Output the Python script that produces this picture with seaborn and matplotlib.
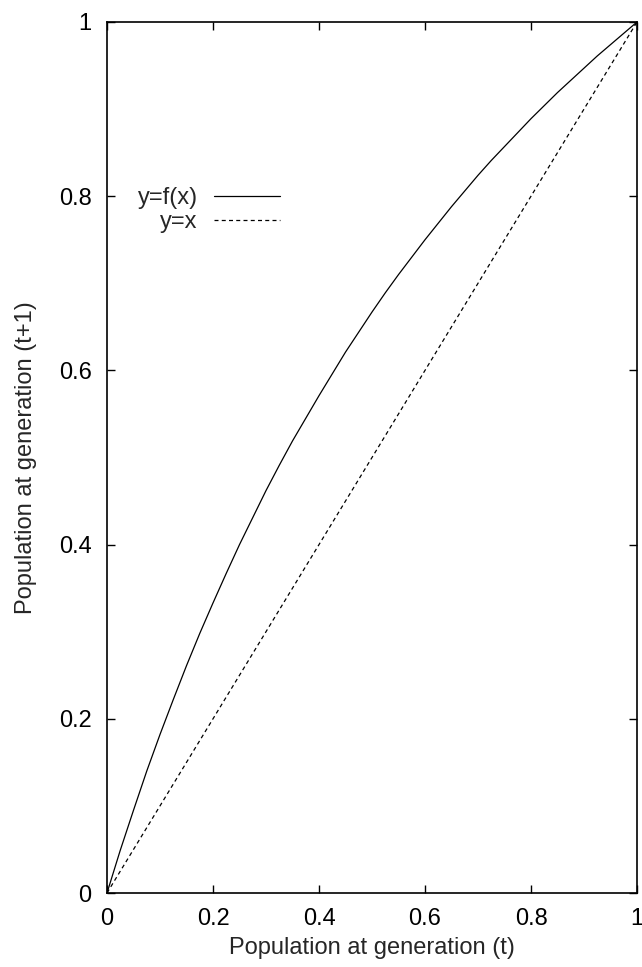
import numpy as np
import pandas as pd
import matplotlib
matplotlib.use("Agg")
import matplotlib.pyplot as plt
import seaborn as sns

# values
x_vals = [0.0, 0.025, 0.05, 0.075, 0.10, 0.125, 0.15, 0.175, 0.20, 0.225,
          0.25, 0.275, 0.30, 0.325, 0.35, 0.375, 0.40, 0.425, 0.45, 0.475,
          0.50, 0.525, 0.55, 0.575, 0.60, 0.625, 0.65, 0.675, 0.70, 0.725,
          0.75, 0.775, 0.80, 0.825, 0.85, 0.875, 0.90, 0.925, 0.95, 0.975, 1.0]
fx_vals = [0.0, 0.049, 0.095, 0.140, 0.182, 0.222, 0.261, 0.298, 0.333, 0.367,
           0.400, 0.431, 0.462, 0.491, 0.519, 0.545, 0.571, 0.596, 0.621, 0.644,
           0.667, 0.689, 0.710, 0.730, 0.750, 0.769, 0.788, 0.806, 0.824, 0.841,
           0.857, 0.873, 0.889, 0.904, 0.919, 0.933, 0.947, 0.961, 0.974, 0.987, 1.0]
diag_x = [0.0, 1.0]
diag_y = [0.0, 1.0]
tick_vals = [0, 0.2, 0.4, 0.6, 0.8, 1]
tick_labels = ["0", "0.2", "0.4", "0.6", "0.8", "1"]

sns.set_style("ticks")
plt.rcParams['font.family'] = ['Liberation Sans', 'DejaVu Sans']

fig = plt.figure(figsize=(6.42, 9.67), dpi=100)
ax = fig.add_axes([107/642, 74/967, 530/642, 871/967])

df_f = pd.DataFrame({"x": x_vals, "y": fx_vals})
df_d = pd.DataFrame({"x": diag_x, "y": diag_y})
sns.lineplot(data=df_f, x="x", y="y", ax=ax, color="black", lw=0.9, label="y=f(x)")
sns.lineplot(data=df_d, x="x", y="y", ax=ax, color="black", lw=0.9,
             dashes=False, label="y=x")
ax.lines[1].set_dashes((3.2, 2.6))

ax.set_xlim(0, 1)
ax.set_ylim(0, 1)
ax.set_xticks(tick_vals)
ax.set_xticklabels(tick_labels)
ax.set_yticks(tick_vals)
ax.set_yticklabels(tick_labels)
ax.tick_params(direction="in", top=True, right=True, length=6, width=1,
               labelsize=17, color="black", labelcolor="black")
ax.tick_params(axis="x", pad=11)
ax.tick_params(axis="y", pad=11)
for s in ax.spines.values():
    s.set_linewidth(1.2)
    s.set_color("black")

ax.set_xlabel("Population at generation (t)", fontsize=17, labelpad=5)
ax.set_ylabel("Population at generation (t+1)", fontsize=17, labelpad=16)

# legend: handles end at x=280px, first row centred at y=196px
leg = ax.legend(loc="upper right", bbox_to_anchor=(280/642, 1 - 187/967),
                bbox_transform=fig.transFigure, frameon=False,
                markerfirst=False, fontsize=17, handlelength=2.8,
                handletextpad=0.68, labelspacing=0.1, borderpad=0,
                borderaxespad=0)

fig.savefig("out.png", dpi=100)
